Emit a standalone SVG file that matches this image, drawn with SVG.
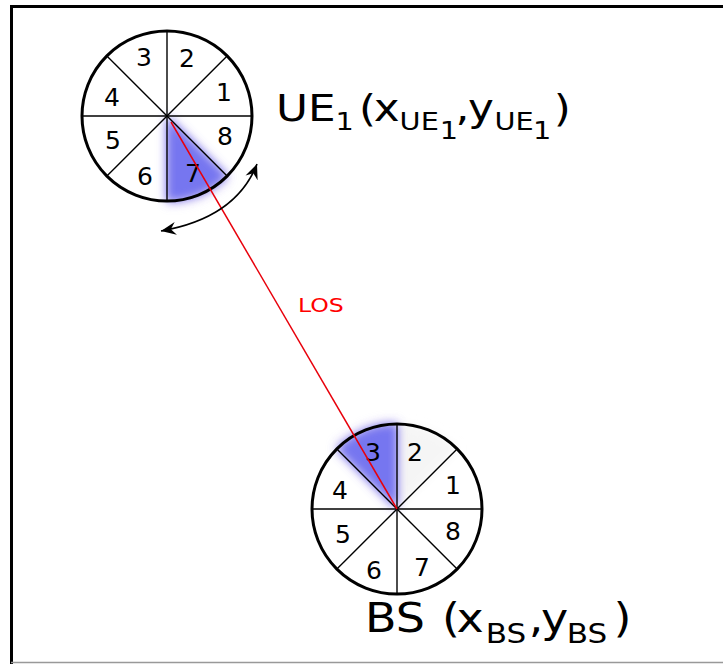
<svg xmlns="http://www.w3.org/2000/svg" width="723" height="664" viewBox="0 0 723 664">
  <defs>
    <filter id="blur" x="-30%" y="-30%" width="160%" height="160%">
      <feGaussianBlur stdDeviation="5"/>
    </filter>
    <filter id="blur2" x="-30%" y="-30%" width="160%" height="160%">
      <feGaussianBlur stdDeviation="6"/>
    </filter>
    <marker id="ah" viewBox="-15 -7 17 14" markerWidth="17" markerHeight="14" refX="0" refY="0" orient="auto-start-reverse" markerUnits="userSpaceOnUse">
      <path d="M0,0 L-15,-6.5 L-10,0 L-15,6.5 Z" fill="#000"/>
    </marker>
  </defs>
  <style>
    .rim { fill: none; stroke: #000; stroke-width: 3; }
    .spoke { stroke: #000; stroke-width: 1.4; fill: none; }
    .num { font-family: "DejaVu Sans", sans-serif; font-size: 25px; fill: #000; text-anchor: middle; }
    .lbl { font-family: "DejaVu Sans", sans-serif; fill: #000; }
    .hl { fill: #7676f0; filter: url(#blur); }
    .halo { fill: #b9a0e8; filter: url(#blur2); opacity: 0.6; }
  </style>
  <rect x="0" y="0" width="723" height="664" fill="#fff"/>
  <!-- frame -->
  <path d="M11.5,664 L11.5,6.5 L723,6.5" fill="none" stroke="#000" stroke-width="3"/>
  <line x1="11" y1="662.5" x2="723" y2="662.5" stroke="#999" stroke-width="1.5"/>

  <g id="ue1">
    <path class="halo" d="M167,116 L167,203 A87,87 0 0 0 228.5,177.5 Z"/>
    <path class="hl" d="M167,116 L167,201 A85,85 0 0 0 227.1,176.1 Z"/>
    <g class="spoke">
      <line x1="167" y1="31" x2="167" y2="201"/>
      <line x1="82" y1="116" x2="252" y2="116"/>
      <line x1="106.9" y1="55.9" x2="227.1" y2="176.1"/>
      <line x1="106.9" y1="176.1" x2="227.1" y2="55.9"/>
    </g>
    <circle class="rim" cx="167" cy="116" r="85"/>
    <text class="num" x="144" y="66">3</text>
    <text class="num" x="187" y="67">2</text>
    <text class="num" x="224" y="101">1</text>
    <text class="num" x="112" y="106">4</text>
    <text class="num" x="113" y="149">5</text>
    <text class="num" x="225" y="145">8</text>
    <text class="num" x="145" y="185">6</text>
    <text class="num" x="193" y="182">7</text>
    <text class="lbl" transform="translate(276,121) scale(1.15,1)" font-size="38"><tspan x="0">UE</tspan><tspan font-size="25" y="9">1</tspan><tspan x="72.2" y="0">(</tspan><tspan x="85" y="0">x</tspan><tspan x="107.5" y="9" font-size="25">UE</tspan><tspan x="142.5" y="18" font-size="25">1</tspan><tspan x="156" y="0">,</tspan><tspan x="167" y="0">y</tspan><tspan x="190" y="9" font-size="25">UE</tspan><tspan x="223.5" y="18" font-size="25">1</tspan><tspan x="241.5" y="0">)</tspan></text>
  </g>

  <g id="bs">
    <path fill="#f5f5f5" filter="url(#blur)" d="M397,509 L397,424 A85,85 0 0 1 457.1,448.9 Z"/>
    <path class="halo" d="M397,509 L397,422 A87,87 0 0 0 335.5,447.5 Z"/>
    <path class="hl" d="M397,509 L397,424 A85,85 0 0 0 336.9,448.9 Z"/>
    <g class="spoke">
      <line x1="397" y1="424" x2="397" y2="594"/>
      <line x1="312" y1="509" x2="482" y2="509"/>
      <line x1="336.9" y1="448.9" x2="457.1" y2="569.1"/>
      <line x1="336.9" y1="569.1" x2="457.1" y2="448.9"/>
    </g>
    <circle class="rim" cx="397" cy="509" r="85"/>
    <text class="num" x="373" y="461">3</text>
    <text class="num" x="415" y="461">2</text>
    <text class="num" x="453" y="494">1</text>
    <text class="num" x="340" y="499">4</text>
    <text class="num" x="343" y="543">5</text>
    <text class="num" x="453" y="540">8</text>
    <text class="num" x="374" y="579">6</text>
    <text class="num" x="422" y="576">7</text>
    <text class="lbl" transform="translate(365,632) scale(1.15,1)" font-size="40"><tspan x="0">BS</tspan><tspan x="67" y="0">(</tspan><tspan x="79.5" y="0">x</tspan><tspan x="105" y="11" font-size="27">BS</tspan><tspan x="142.5" y="0">,</tspan><tspan x="153" y="0">y</tspan><tspan x="175.5" y="11" font-size="27">BS</tspan><tspan x="216" y="0">)</tspan></text>
  </g>

  <g id="connectors">
    <line id="los" x1="171" y1="122" x2="397" y2="509" stroke="#e8000b" stroke-width="1.5"/>
    <text transform="translate(298,312) scale(1.18,1)" font-family="DejaVu Sans, sans-serif" font-size="20" fill="#ff0000">LOS</text>
    <path id="rot" d="M161,231 Q236,218 257,164" fill="none" stroke="#000" stroke-width="1.6" marker-start="url(#ah)" marker-end="url(#ah)"/>
  </g>
</svg>
